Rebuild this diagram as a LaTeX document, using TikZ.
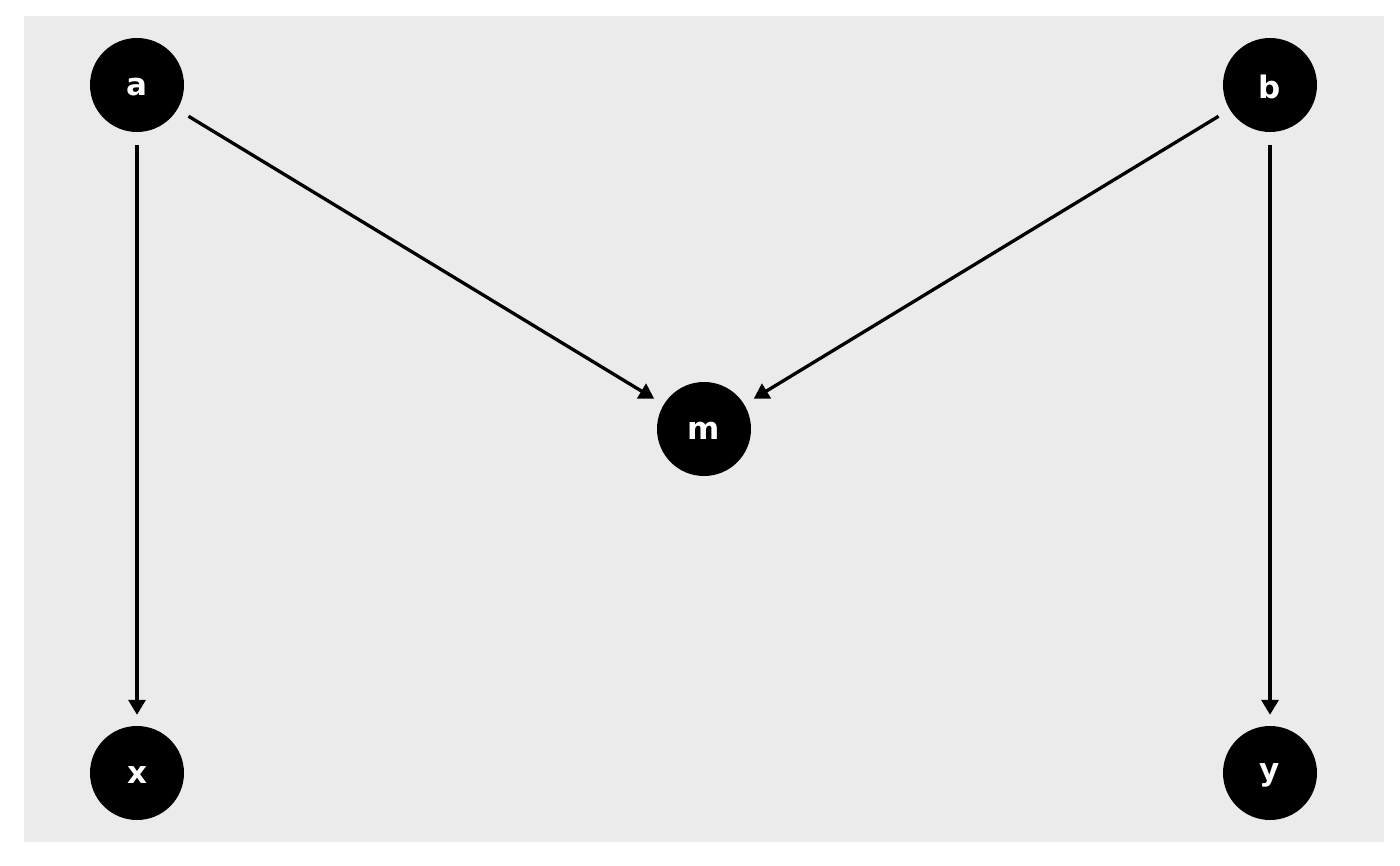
\documentclass[tikz,border=0pt]{standalone}
\usepackage{fontspec}
\setmainfont{DejaVu Sans}
\usetikzlibrary{arrows.meta}
\definecolor{panel}{HTML}{EBEBEB}
\tikzset{
  dagnode/.style={circle, fill=black, minimum size=94pt, inner sep=0pt},
  daglabel/.style={text=white, font=\fontsize{31}{31}\selectfont\bfseries},
  edge/.style={line width=3.3pt, -{Triangle[length=15pt,width=17pt]}, shorten <=13pt, shorten >=11pt}
}
\begin{document}
\begin{tikzpicture}[x=1pt,y=-1pt]
\useasboundingbox (0,0) rectangle (1400,866);
\fill[panel] (24,16) rectangle (1384,842);
\node[dagnode] (a) at (137,85) {};
\node[dagnode] (b) at (1270,85) {};
\node[dagnode] (m) at (704,429) {};
\node[dagnode] (x) at (137,773) {};
\node[dagnode] (y) at (1270,773) {};
\node[daglabel] (la) at (137,87) {a};
\node[daglabel] (lb) at (1270,87) {b};
\node[daglabel] (lm) at (704,431) {m};
\node[daglabel] (lx) at (137,775) {x};
\node[daglabel] (ly) at (1270,775) {y};
\draw[edge] (a) -- (x);
\draw[edge] (a) -- (m);
\draw[edge] (b) -- (m);
\draw[edge] (b) -- (y);
\end{tikzpicture}
\end{document}
